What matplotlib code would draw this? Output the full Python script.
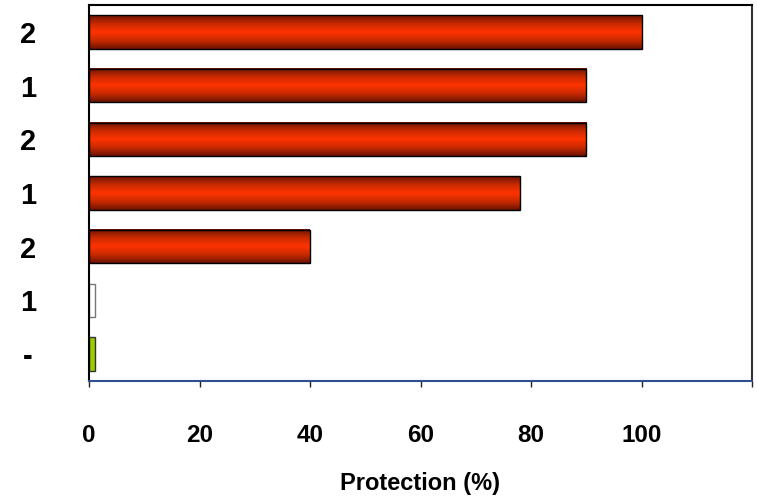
import matplotlib.pyplot as plt
import numpy as np
from matplotlib.colors import LinearSegmentedColormap

plt.rcParams['font.family'] = ['Liberation Sans', 'DejaVu Sans']

# Treatment groups, listed top to bottom
group_labels = ["2", "1", "2", "1", "2", "1", "-"]
protection = [100, 90, 90, 78, 40, 1, 1]
bar_style = ["red", "red", "red", "red", "red", "white", "green"]

# cylinder-like shading used on the red bars
red_shade = LinearSegmentedColormap.from_list(
    "red_shade", ["#6a1300", "#c82a00", "#ff3300", "#c82a00", "#6a1300"])

fig = plt.figure(figsize=(7.57, 4.98), dpi=100)
ax = fig.add_axes([89 / 757, 1 - 381 / 498, (752 - 89) / 757, (381 - 5) / 498])

n = len(protection)
ypos = np.arange(n)[::-1]
bars = ax.barh(ypos, protection, height=0.62, edgecolor="black", linewidth=1.0, zorder=2)

grad = np.linspace(0, 1, 256).reshape(-1, 1)
for bar, style in zip(bars, bar_style):
    if style == "red":
        bar.set_facecolor("none")
        x0, y0 = bar.get_x(), bar.get_y()
        w, h = bar.get_width(), bar.get_height()
        ax.imshow(grad, cmap=red_shade, aspect="auto", extent=(x0, x0 + w, y0, y0 + h),
                  origin="lower", zorder=1.5, interpolation="bilinear")
    elif style == "white":
        bar.set_facecolor("white")
        bar.set_edgecolor("#777777")
    else:
        bar.set_facecolor("#9acd00")
        bar.set_edgecolor("#333333")

ax.set_xlim(0, 120)
ax.set_ylim(-0.5, n - 0.5)

ax.set_xticks([0, 20, 40, 60, 80, 100, 120])
ax.set_xticklabels(["0", "20", "40", "60", "80", "100", ""], fontsize=17.5, fontweight="bold")
ax.tick_params(axis="x", direction="out", length=4, width=1, pad=27, color="#222222")

ax.set_yticks(ypos)
ax.set_yticklabels(group_labels, fontsize=21, fontweight="bold")
ax.tick_params(axis="y", length=0, pad=44)
for lab in ax.get_yticklabels():
    lab.set_horizontalalignment("center")

ax.set_xlabel("Protection (%)", fontsize=17, fontweight="bold", labelpad=18)

for side in ("top", "left"):
    ax.spines[side].set_color("black")
    ax.spines[side].set_linewidth(1.5)
ax.spines["right"].set_color("#333333")
ax.spines["right"].set_linewidth(1.5)
ax.spines["bottom"].set_color("#2f4f8f")
ax.spines["bottom"].set_linewidth(1.5)

fig.savefig("out.png", dpi=100, facecolor="white")
